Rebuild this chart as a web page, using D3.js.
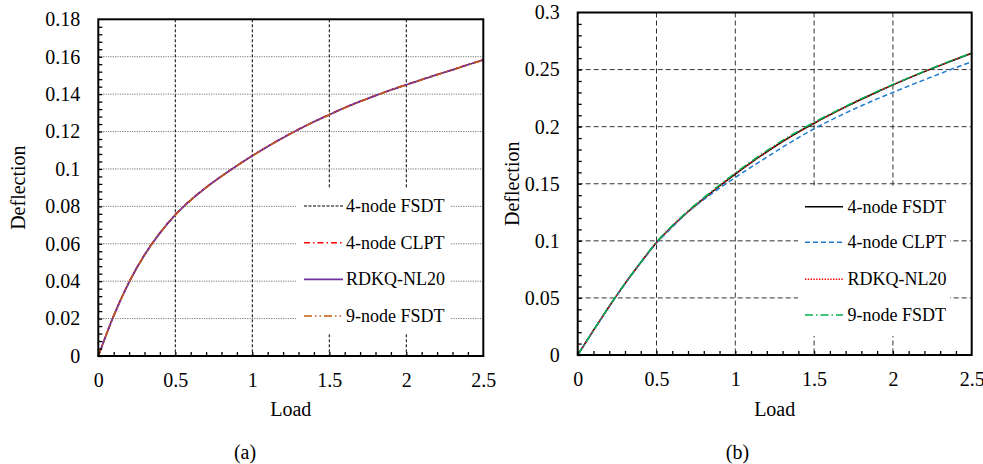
<!DOCTYPE html>
<html>
<head>
<meta charset="utf-8">
<script src="https://cdn.jsdelivr.net/npm/d3@7"></script>
<style>
  body { margin: 0; background: #fff; }
  svg { display: block; font-family: "Liberation Serif", "Times New Roman", serif; }
</style>
</head>
<body>
<svg id="chart" width="983" height="464"></svg>
<script>
const serif = '"Liberation Serif", "Times New Roman", serif';

// load steps, shared by both panels
const loads = [0, 0.1, 0.2, 0.3, 0.4, 0.5, 0.6, 0.7, 0.8, 0.9, 1.0, 1.1, 1.2,
               1.3, 1.4, 1.5, 1.6, 1.7, 1.8, 1.9, 2.0, 2.1, 2.2, 2.3, 2.4, 2.5];

// panel (a) deflections
const fsdt4A = [0, 0.0215, 0.0395, 0.0540, 0.0657, 0.0754, 0.0833, 0.0901, 0.0961, 0.1017, 0.1070, 0.1120, 0.1167,
                0.1211, 0.1252, 0.1290, 0.1327, 0.1361, 0.1392, 0.1422, 0.1450, 0.1477, 0.1504, 0.1530, 0.1557, 0.1583];
const clpt4A = [0, 0.0216, 0.0397, 0.0542, 0.0659, 0.0756, 0.0835, 0.0902, 0.0962, 0.1018, 0.1071, 0.1121, 0.1168,
                0.1212, 0.1253, 0.1291, 0.1328, 0.1362, 0.1393, 0.1423, 0.1451, 0.1478, 0.1505, 0.1531, 0.1558, 0.1584];
const rdkqA  = [0, 0.0215, 0.0395, 0.0540, 0.0657, 0.0754, 0.0833, 0.0901, 0.0961, 0.1017, 0.1070, 0.1120, 0.1167,
                0.1211, 0.1252, 0.1290, 0.1327, 0.1361, 0.1392, 0.1422, 0.1450, 0.1477, 0.1504, 0.1530, 0.1557, 0.1583];
const fsdt9A = [0, 0.0214, 0.0394, 0.0539, 0.0656, 0.0753, 0.0832, 0.0900, 0.0960, 0.1016, 0.1069, 0.1119, 0.1166,
                0.1210, 0.1251, 0.1289, 0.1326, 0.1360, 0.1391, 0.1421, 0.1449, 0.1476, 0.1503, 0.1529, 0.1556, 0.1582];

// panel (b) deflections
const fsdt4B = [0, 0.0215, 0.0425, 0.0625, 0.0810, 0.0985, 0.1128, 0.1255, 0.1370, 0.1480, 0.1585, 0.1685, 0.1780,
                0.1870, 0.1953, 0.2030, 0.2103, 0.2173, 0.2240, 0.2304, 0.2366, 0.2425, 0.2482, 0.2537, 0.2591, 0.2643];
const clpt4B = [0, 0.0215, 0.0424, 0.0623, 0.0807, 0.0980, 0.1120, 0.1255, 0.1362, 0.1462, 0.1555, 0.1645, 0.1733,
                0.1820, 0.1903, 0.1982, 0.2053, 0.2120, 0.2183, 0.2243, 0.2300, 0.2356, 0.2411, 0.2465, 0.2518, 0.2569];
const rdkqB  = [0, 0.0215, 0.0425, 0.0625, 0.0810, 0.0985, 0.1129, 0.1256, 0.1371, 0.1481, 0.1586, 0.1686, 0.1781,
                0.1871, 0.1954, 0.2031, 0.2104, 0.2174, 0.2241, 0.2305, 0.2367, 0.2426, 0.2483, 0.2538, 0.2592, 0.2644];
const fsdt9B = [0, 0.0216, 0.0427, 0.0628, 0.0813, 0.0989, 0.1133, 0.1262, 0.1378, 0.1489, 0.1595, 0.1695, 0.1790,
                0.1880, 0.1962, 0.2038, 0.2110, 0.2179, 0.2245, 0.2309, 0.2370, 0.2428, 0.2485, 0.2540, 0.2594, 0.2645];

const seriesNames = ["4-node FSDT", "4-node CLPT", "RDKQ-NL20", "9-node FSDT"];

// axis ticks and labels
const xTicks = [0, 0.5, 1, 1.5, 2, 2.5];
const xTickLabels = ["0", "0.5", "1", "1.5", "2", "2.5"];
const yTicksA = [0, 0.02, 0.04, 0.06, 0.08, 0.1, 0.12, 0.14, 0.16, 0.18];
const yTickLabelsA = ["0", "0.02", "0.04", "0.06", "0.08", "0.1", "0.12", "0.14", "0.16", "0.18"];
const yTicksB = [0, 0.05, 0.1, 0.15, 0.2, 0.25, 0.3];
const yTickLabelsB = ["0", "0.05", "0.1", "0.15", "0.2", "0.25", "0.3"];

const svg = d3.select("#chart");

function drawPanel(p) {
    const g = svg.append("g");

    const x = d3.scaleLinear().domain([0, 2.5]).range([p.left, p.right]);
    const y = d3.scaleLinear().domain([0, p.yTicks[p.yTicks.length - 1]]).range([p.bottom, p.top]);

    // gridlines
    g.selectAll(".hgrid").data(p.yTicks.slice(1, -1)).enter().append("line")
        .attr("class", "hgrid")
        .attr("x1", p.left).attr("x2", p.right)
        .attr("y1", d => y(d)).attr("y2", d => y(d))
        .attr("stroke", p.hGrid.color)
        .attr("stroke-width", 1)
        .attr("stroke-dasharray", p.hGrid.dash);

    g.selectAll(".vgrid").data(xTicks.slice(1, -1)).enter().append("line")
        .attr("class", "vgrid")
        .attr("x1", d => x(d)).attr("x2", d => x(d))
        .attr("y1", p.top).attr("y2", p.bottom)
        .attr("stroke", p.vGrid.color)
        .attr("stroke-width", 1)
        .attr("stroke-dasharray", p.vGrid.dash);

    // legend background hides the grid behind it
    const lg = p.legend;
    g.append("rect")
        .attr("x", lg.x0).attr("y", lg.y0)
        .attr("width", lg.x1 - lg.x0).attr("height", lg.y1 - lg.y0)
        .attr("fill", "#fff");

    // curves
    const line = d3.line()
        .x((d, i) => x(loads[i]))
        .y(d => y(d))
        .curve(d3.curveMonotoneX);

    p.series.forEach(s => {
        g.append("path")
            .datum(s.values)
            .attr("d", line)
            .attr("fill", "none")
            .attr("stroke", s.color)
            .attr("stroke-width", s.width)
            .attr("stroke-dasharray", s.dash);
    });

    // legend entries
    p.series.forEach((s, i) => {
        const ry = lg.rows[i];
        g.append("line")
            .attr("x1", lg.sx0).attr("x2", lg.sx1)
            .attr("y1", ry).attr("y2", ry)
            .attr("stroke", s.color)
            .attr("stroke-width", s.width)
            .attr("stroke-dasharray", s.dash);
        g.append("text")
            .attr("x", lg.tx).attr("y", ry + 6)
            .attr("font-family", serif)
            .attr("font-size", 18)
            .attr("fill", "#000")
            .text(seriesNames[i]);
    });

    // frame
    g.append("rect")
        .attr("x", p.left).attr("y", p.top)
        .attr("width", p.right - p.left).attr("height", p.bottom - p.top)
        .attr("fill", "none").attr("stroke", "#000").attr("stroke-width", 2);

    // inward minor ticks
    const xMinor = d3.range(0, 25).map(i => i / 10);
    const yMinor = d3.range(0, p.yTicks.length - 1).flatMap(i =>
        d3.range(0, 5).map(k => p.yTicks[i] + (p.yTicks[i + 1] - p.yTicks[i]) * k / 5));

    g.append("g")
        .attr("transform", `translate(0,${p.bottom})`)
        .call(d3.axisBottom(x).tickValues(xMinor).tickSize(-4).tickFormat(""))
        .call(a => a.select(".domain").remove())
        .call(a => a.selectAll("line").attr("stroke-width", 1.3));

    g.append("g")
        .attr("transform", `translate(${p.left},0)`)
        .call(d3.axisLeft(y).tickValues(yMinor).tickSize(-4).tickFormat(""))
        .call(a => a.select(".domain").remove())
        .call(a => a.selectAll("line").attr("stroke-width", 1.3));

    // tick labels
    g.append("g")
        .attr("transform", `translate(0,${p.bottom})`)
        .call(d3.axisBottom(x).tickValues(xTicks).tickSize(0).tickPadding(17)
            .tickFormat((d, i) => xTickLabels[i]))
        .call(a => a.select(".domain").remove())
        .call(a => a.attr("font-family", serif).attr("font-size", 20))
        .call(a => a.selectAll("text").attr("font-family", serif).attr("font-size", 20).attr("fill", "#000"));

    g.append("g")
        .attr("transform", `translate(${p.left},0)`)
        .call(d3.axisLeft(y).tickValues(p.yTicks).tickSize(0).tickPadding(18)
            .tickFormat((d, i) => p.yLabels[i]))
        .call(a => a.select(".domain").remove())
        .call(a => a.attr("font-family", serif).attr("font-size", 20))
        .call(a => a.selectAll("text").attr("font-family", serif).attr("font-size", 20).attr("fill", "#000"));

    // axis titles
    g.append("text")
        .attr("x", (p.left + p.right) / 2).attr("y", 416)
        .attr("text-anchor", "middle").attr("font-family", serif).attr("font-size", 20)
        .text("Load");

    g.append("text")
        .attr("transform", `translate(${p.yTitleX},${(p.top + p.bottom) / 2}) rotate(-90)`)
        .attr("text-anchor", "middle").attr("font-family", serif).attr("font-size", 20)
        .text("Deflection");

    g.append("text")
        .attr("x", p.tagX).attr("y", 459)
        .attr("text-anchor", "middle").attr("font-family", serif).attr("font-size", 20)
        .text(p.tag);
}

drawPanel({
    left: 98.3, right: 483.3, top: 19.3, bottom: 356,
    yTicks: yTicksA, yLabels: yTickLabelsA,
    hGrid: {color: "#777", dash: "1.2,1.2"},
    vGrid: {color: "#000", dash: "3,2"},
    series: [
        {values: fsdt4A, color: "#000", width: 1.2, dash: "3,1.5"},
        {values: clpt4A, color: "#FF0000", width: 1.5, dash: "6,3,1.5,3"},
        {values: rdkqA, color: "#7030A0", width: 1.8, dash: null},
        {values: fsdt9A, color: "#C55A11", width: 1.5, dash: "8,3,1.5,3,1.5,3"}
    ],
    legend: {x0: 296, x1: 450, y0: 188, y1: 334, sx0: 304, sx1: 343, tx: 346,
             rows: [206, 242.7, 279.4, 316]},
    yTitleX: 25, tag: "(a)", tagX: 245
});

drawPanel({
    left: 577.7, right: 971.7, top: 12.5, bottom: 355,
    yTicks: yTicksB, yLabels: yTickLabelsB,
    hGrid: {color: "#333", dash: "5,3"},
    vGrid: {color: "#333", dash: "5,3"},
    series: [
        {values: fsdt4B, color: "#000", width: 1.5, dash: null},
        {values: clpt4B, color: "#1F7BD0", width: 1.5, dash: "5,3"},
        {values: rdkqB, color: "#FF0000", width: 1.4, dash: "1.4,1.4"},
        {values: fsdt9B, color: "#00B050", width: 1.5, dash: "8,3,1.5,3"}
    ],
    legend: {x0: 798, x1: 950, y0: 188, y1: 336, sx0: 805, sx1: 843, tx: 847.5,
             rows: [206.7, 242.3, 279.3, 315]},
    yTitleX: 519, tag: "(b)", tagX: 737.5
});
</script>
</body>
</html>
